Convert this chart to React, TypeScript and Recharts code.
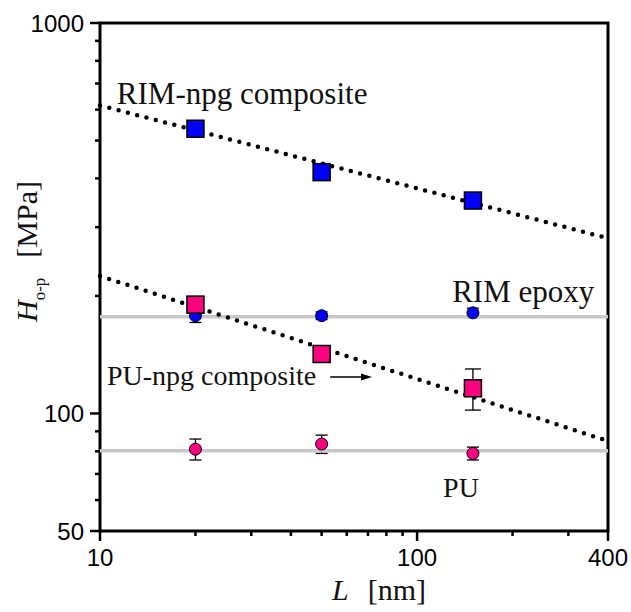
import React from 'react';
import {
  ComposedChart,
  Scatter,
  XAxis,
  YAxis,
  ErrorBar,
  ReferenceLine,
  ReferenceDot,
  ReferenceArea,
} from 'recharts';

// ---- data ----
const lengths = [20, 50, 150];

const rimNpgH = [536, 415, 351];
const rimNpgErr = [8, 6, 12];

const puNpgH = [190, 142, 116];
const puNpgErr = [9, 5, 14];

const rimEpoxyH = [178, 178, 181];
const rimEpoxyErr = [7, 4, 5];

const puH = [81, 83.5, 79];
const puErr = [5, 4.5, 3];

const rimFitL = [10, 400];
const rimFitH = [615, 281];
const puFitL = [10, 400];
const puFitH = [225, 85];

const rimEpoxyLevel = 177;
const puLevel = 80.3;

const xTicks = [10, 20, 30, 40, 50, 60, 70, 80, 90, 100, 200, 300, 400];
const xMajor = [10, 100, 400];
const yTicks = [50, 60, 70, 80, 90, 100, 200, 300, 400, 500, 600, 700, 800, 900, 1000];
const yMajor = [50, 100, 1000];

const labelRimNpg = { text: 'RIM-npg composite', x: 11.3, y: 620 };
const labelRimEpoxy = { text: 'RIM epoxy', x: 129, y: 193 };
const labelPuNpg = { text: 'PU-npg composite', x: 10.52, y: 118.2 };
const labelPu = { text: 'PU', x: 120.8, y: 61.1 };
const arrowFrom = { x: 53.2, y: 124 };
const arrowTo = { x: 72.1, y: 124 };

const mk = (h: number[], e: number[]) => lengths.map((x, i) => ({ x, y: h[i], err: e[i] }));
const rimNpgData = mk(rimNpgH, rimNpgErr);
const puNpgData = mk(puNpgH, puNpgErr);
const rimEpoxyData = mk(rimEpoxyH, rimEpoxyErr);
const puData = mk(puH, puErr);

const BLUE = '#0000ff';
const PINK = '#ff0080';
const GREY = '#c8c8c8';
const SERIF = '"Liberation Serif", "Times New Roman", serif';
const SANS = '"Liberation Sans", Arial, sans-serif';

const XTick = (p: any) => {
  const v = p.payload.value;
  const x = p.payload.coordinate ?? p.x;
  const y = 531;
  const major = xMajor.includes(v);
  return (
    <g>
      <line x1={x} x2={x} y1={y} y2={y + (major ? 10 : 5)} stroke="#000" strokeWidth={2.5} />
      {major && (
        <text x={x} y={y + 35} textAnchor="middle" fontFamily={SANS} fontSize={24} fill="#000">
          {v}
        </text>
      )}
    </g>
  );
};

const YTick = (p: any) => {
  const v = p.payload.value;
  const y = p.payload.coordinate ?? p.y;
  const x = 100;
  const major = yMajor.includes(v);
  return (
    <g>
      <line x1={x - (major ? 10 : 5)} x2={x} y1={y} y2={y} stroke="#000" strokeWidth={2.5} />
      {major && (
        <text x={x - 16} y={y + 8.5} textAnchor="end" fontFamily={SANS} fontSize={24} fill="#000">
          {v}
        </text>
      )}
    </g>
  );
};

const squareShape = (color: string) => (p: any) => (
  <rect x={p.cx - 8.5} y={p.cy - 8.5} width={17} height={17} fill={color} stroke="#000" strokeWidth={1.5} />
);
const circleShape = (color: string) => (p: any) => (
  <circle cx={p.cx} cy={p.cy} r={6} fill={color} stroke="#000" strokeWidth={1} />
);

const textShape = (text: string, size: number) => (p: any) => (
  <text x={p.cx} y={p.cy} fontFamily={SERIF} fontSize={size} fill="#111">
    {text}
  </text>
);

const arrowHead = (p: any) => (
  <path d={`M${p.cx},${p.cy} L${p.cx - 11},${p.cy - 3.5} L${p.cx - 11},${p.cy + 3.5} Z`} fill="#000" />
);

const dotted = { stroke: '#000', strokeWidth: 4.5, strokeDasharray: '0 9.6', strokeLinecap: 'round' as const };

const XTitle = () => (
  <text x={332} y={600} fontFamily={SERIF} fontSize={30} fill="#111">
    <tspan fontStyle="italic">L</tspan>
    <tspan dx={19}>[nm]</tspan>
  </text>
);

const YTitle = () => (
  <text x={37} y={322} transform="rotate(-90, 37, 322)" fontFamily={SERIF} fontSize={30} fill="#111">
    <tspan fontStyle="italic">H</tspan>
    <tspan fontSize={17} dy={8}>o-p</tspan>
    <tspan dy={-8} dx={20}>[MPa]</tspan>
  </text>
);

export default function App() {
  return (
    <div style={{ position: 'absolute', left: 0, top: 0, background: '#fff' }}>
      <ComposedChart width={631} height={612} margin={{ top: 23, right: 23, bottom: 0, left: 0 }}>
        <XAxis
          type="number"
          dataKey="x"
          scale="log"
          domain={[10, 400]}
          ticks={xTicks}
          interval={0}
          allowDataOverflow
          axisLine={false}
          tickLine={false}
          tickSize={0}
          tickMargin={0}
          height={81}
          tick={(p: any) => <XTick {...p} />}
          label={{ content: () => <XTitle /> }}
        />
        <YAxis
          type="number"
          dataKey="y"
          scale="log"
          domain={[50, 1000]}
          ticks={yTicks}
          interval={0}
          allowDataOverflow
          axisLine={false}
          tickLine={false}
          tickSize={0}
          tickMargin={0}
          width={100}
          tick={(p: any) => <YTick {...p} />}
          label={{ content: () => <YTitle /> }}
        />

        <Scatter data={rimEpoxyData} shape={circleShape(BLUE)} isAnimationActive={false}>
          <ErrorBar dataKey="err" direction="y" width={6} stroke="#000" strokeWidth={1.3} />
        </Scatter>
        <Scatter data={puData} shape={circleShape(PINK)} isAnimationActive={false}>
          <ErrorBar dataKey="err" direction="y" width={6} stroke="#000" strokeWidth={1.3} />
        </Scatter>
        <Scatter data={rimNpgData} shape={squareShape(BLUE)} isAnimationActive={false}>
          <ErrorBar dataKey="err" direction="y" width={8} stroke="#000" strokeWidth={1.3} />
        </Scatter>
        <Scatter data={puNpgData} shape={squareShape(PINK)} isAnimationActive={false}>
          <ErrorBar dataKey="err" direction="y" width={8} stroke="#000" strokeWidth={1.3} />
        </Scatter>

        <ReferenceLine y={rimEpoxyLevel} stroke={GREY} strokeWidth={3.5} />
        <ReferenceLine y={puLevel} stroke={GREY} strokeWidth={3.5} />

        <ReferenceLine
          segment={[
            { x: rimFitL[0], y: rimFitH[0] },
            { x: rimFitL[1], y: rimFitH[1] },
          ]}
          {...dotted}
        />
        <ReferenceLine
          segment={[
            { x: puFitL[0], y: puFitH[0] },
            { x: puFitL[1], y: puFitH[1] },
          ]}
          {...dotted}
        />

        <ReferenceLine
          segment={[arrowFrom, { x: arrowTo.x * 0.97, y: arrowTo.y }]}
          stroke="#000"
          strokeWidth={1.3}
        />
        <ReferenceDot x={arrowTo.x} y={arrowTo.y} r={0} shape={arrowHead} />

        <ReferenceDot x={labelRimNpg.x} y={labelRimNpg.y} r={0} shape={textShape(labelRimNpg.text, 31)} />
        <ReferenceDot x={labelRimEpoxy.x} y={labelRimEpoxy.y} r={0} shape={textShape(labelRimEpoxy.text, 31)} />
        <ReferenceDot x={labelPuNpg.x} y={labelPuNpg.y} r={0} shape={textShape(labelPuNpg.text, 28)} />
        <ReferenceDot x={labelPu.x} y={labelPu.y} r={0} shape={textShape(labelPu.text, 28)} />

        <ReferenceArea x1={10} x2={400} y1={50} y2={1000} fill="none" fillOpacity={0} stroke="#000" strokeWidth={3} />
      </ComposedChart>
    </div>
  );
}
